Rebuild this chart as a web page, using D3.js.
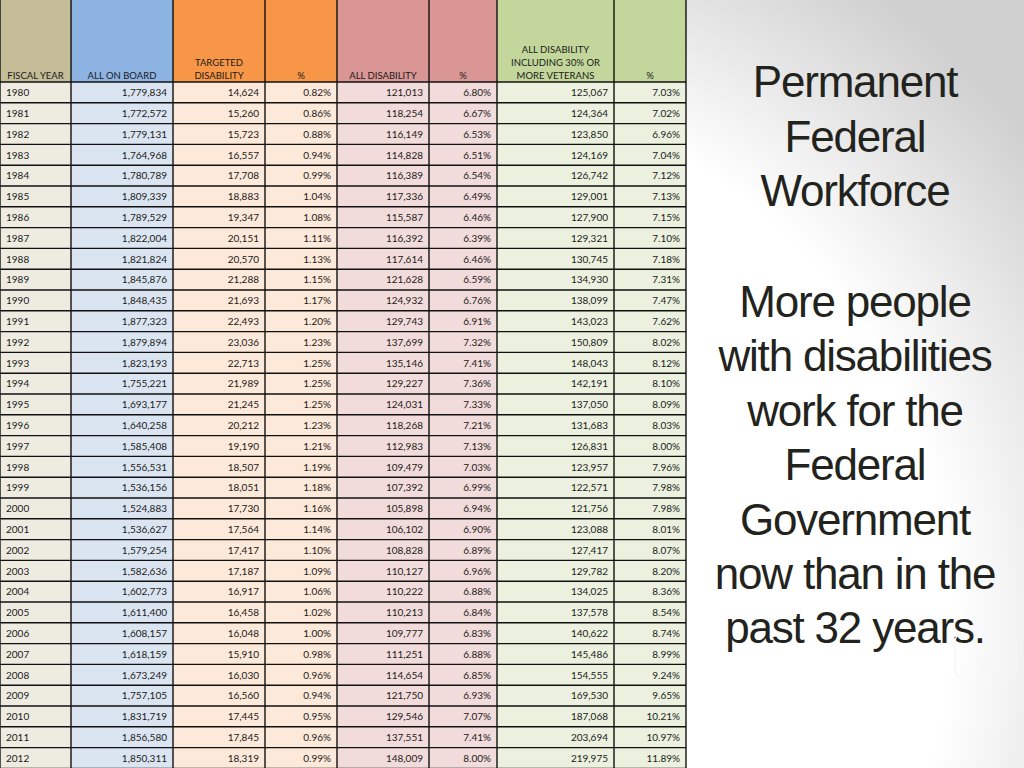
<!DOCTYPE html>
<html><head><meta charset="utf-8">
<script src="https://cdn.jsdelivr.net/npm/d3@7/dist/d3.min.js"></script>
<style>html,body{margin:0;padding:0;background:#fff;overflow:hidden}</style>
</head><body>
<script>
// ---- data ----
const years = [1980,1981,1982,1983,1984,1985,1986,1987,1988,1989,1990,1991,1992,1993,1994,1995,1996,1997,1998,1999,2000,2001,2002,2003,2004,2005,2006,2007,2008,2009,2010,2011,2012];
const allOnBoard = [1779834,1772572,1779131,1764968,1780789,1809339,1789529,1822004,1821824,1845876,1848435,1877323,1879894,1823193,1755221,1693177,1640258,1585408,1556531,1536156,1524883,1536627,1579254,1582636,1602773,1611400,1608157,1618159,1673249,1757105,1831719,1856580,1850311];
const targetedDisability = [14624,15260,15723,16557,17708,18883,19347,20151,20570,21288,21693,22493,23036,22713,21989,21245,20212,19190,18507,18051,17730,17564,17417,17187,16917,16458,16048,15910,16030,16560,17445,17845,18319];
const targetedPct = [0.82,0.86,0.88,0.94,0.99,1.04,1.08,1.11,1.13,1.15,1.17,1.20,1.23,1.25,1.25,1.25,1.23,1.21,1.19,1.18,1.16,1.14,1.10,1.09,1.06,1.02,1.00,0.98,0.96,0.94,0.95,0.96,0.99];
const allDisability = [121013,118254,116149,114828,116389,117336,115587,116392,117614,121628,124932,129743,137699,135146,129227,124031,118268,112983,109479,107392,105898,106102,108828,110127,110222,110213,109777,111251,114654,121750,129546,137551,148009];
const allDisabilityPct = [6.80,6.67,6.53,6.51,6.54,6.49,6.46,6.39,6.46,6.59,6.76,6.91,7.32,7.41,7.36,7.33,7.21,7.13,7.03,6.99,6.94,6.90,6.89,6.96,6.88,6.84,6.83,6.88,6.85,6.93,7.07,7.41,8.00];
const veterans = [125067,124364,123850,124169,126742,129001,127900,129321,130745,134930,138099,143023,150809,148043,142191,137050,131683,126831,123957,122571,121756,123088,127417,129782,134025,137578,140622,145486,154555,169530,187068,203694,219975];
const veteransPct = [7.03,7.02,6.96,7.04,7.12,7.13,7.15,7.10,7.18,7.31,7.47,7.62,8.02,8.12,8.10,8.09,8.03,8.00,7.96,7.98,7.98,8.01,8.07,8.20,8.36,8.54,8.74,8.99,9.24,9.65,10.21,10.97,11.89];
const headers = [["FISCAL YEAR"],["ALL ON BOARD"],["TARGETED","DISABILITY"],["%"],["ALL DISABILITY"],["%"],["ALL DISABILITY","INCLUDING 30% OR","MORE VETERANS"],["%"]];
const titleLines = ["Permanent","Federal","Workforce"];
const messageLines = ["More people","with disabilities","work for the","Federal","Government","now than in the","past 32 years."];
const pageNumber = "4";

// ---- layout ----
const W = 1024, H = 768;
const colEdges = [0,71,173,265,337,429,497,614,686];
const headColors = ["#c4bd97","#8db3e2","#f79646","#f79646","#d99694","#d99694","#c3d69b","#c3d69b"];
const bodyColors = ["#eeece1","#dbe5f1","#fde9d9","#fde9d9","#f2dcdb","#f2dcdb","#ebf1de","#ebf1de"];
const headerH = 82, rowH = 20.8;

const fmtInt = d3.format(",");
const fmtPct = v => v.toFixed(2) + "%";
const columns = [
  {vals: years, f: d => String(d), align: "left"},
  {vals: allOnBoard, f: fmtInt},
  {vals: targetedDisability, f: fmtInt},
  {vals: targetedPct, f: fmtPct},
  {vals: allDisability, f: fmtInt},
  {vals: allDisabilityPct, f: fmtPct},
  {vals: veterans, f: fmtInt},
  {vals: veteransPct, f: fmtPct}
];

const svg = d3.select("body").append("svg").attr("width", W).attr("height", H)
  .style("display","block");

const defs = svg.append("defs");
const rg = defs.append("radialGradient").attr("id","bg")
  .attr("gradientUnits","userSpaceOnUse").attr("cx",420).attr("cy",620).attr("r",780);
rg.append("stop").attr("offset","0%").attr("stop-color","#ffffff");
rg.append("stop").attr("offset","68%").attr("stop-color","#ffffff");
rg.append("stop").attr("offset","100%").attr("stop-color","#cfcfcf");
svg.append("rect").attr("width",W).attr("height",H).attr("fill","url(#bg)");

// scales
const y = d3.scaleBand().domain(years).range([headerH, headerH + rowH*years.length]).padding(0);
const colIdx = d3.range(columns.length);
const x0 = d3.scaleOrdinal().domain(colIdx).range(colEdges.slice(0,-1));
const x1 = d3.scaleOrdinal().domain(colIdx).range(colEdges.slice(1));

const table = svg.append("g").attr("font-family","Lato, 'Open Sans', sans-serif");

// header cells
table.selectAll("rect.h").data(colIdx).join("rect").attr("class","h")
  .attr("x", i => x0(i)).attr("y", -2).attr("width", i => x1(i)-x0(i)).attr("height", headerH+2)
  .attr("fill", i => headColors[i]);

// body cells
colIdx.forEach(ci => {
  table.append("g").selectAll("rect").data(years).join("rect")
    .attr("x", x0(ci)).attr("y", d => y(d)).attr("width", x1(ci)-x0(ci)).attr("height", y.bandwidth())
    .attr("fill", bodyColors[ci]);
});

// header text
colIdx.forEach(ci => {
  const lines = headers[ci];
  const cx = (x0(ci)+x1(ci))/2;
  table.append("g").selectAll("text").data(lines).join("text")
    .attr("x", cx).attr("y", (d,j) => 79 - (lines.length-1-j)*13)
    .attr("text-anchor","middle").attr("font-size", 9.5).attr("fill","#1a1a1a")
    .text(d => d);
});

// body text
colIdx.forEach(ci => {
  const c = columns[ci];
  table.append("g").selectAll("text").data(years).join("text")
    .attr("x", c.align === "left" ? x0(ci)+6 : x1(ci)-6)
    .attr("y", (d) => y(d) + y.bandwidth()/2 + 3.8)
    .attr("text-anchor", c.align === "left" ? "start" : "end")
    .attr("font-size", 10).attr("fill","#1a1a1a")
    .text((d,i) => c.f(c.vals[i]));
});

// grid lines
const grid = table.append("g").attr("stroke","#111").attr("stroke-width",1.4);
grid.selectAll("line.v").data(colEdges).join("line")
  .attr("x1", d => d).attr("x2", d => d).attr("y1", -2).attr("y2", H+2);
const hLines = [headerH].concat(years.map(d => y(d)+y.bandwidth()));
grid.selectAll("line.hz").data(hLines).join("line")
  .attr("x1", 0).attr("x2", colEdges[colEdges.length-1]).attr("y1", d => d).attr("y2", d => d);

// right-hand text
const txt = svg.append("g").attr("font-family","'Liberation Sans', Arial, sans-serif")
  .attr("font-size", 44).attr("fill","#23231d").attr("text-anchor","middle")
  .attr("letter-spacing","-1.2px");
txt.selectAll("text.t").data(titleLines).join("text").attr("class","t")
  .attr("x", 855).attr("y", (d,i) => 97 + i*54.5).text(d => d);
txt.selectAll("text.m").data(messageLines).join("text").attr("class","m")
  .attr("x", 855).attr("y", (d,i) => 317 + i*54.4).text(d => d);

// page number with brackets
const pn = svg.append("g");
pn.append("path").attr("d","M962,634 Q955,635 955,642 L955,670 Q955,677 962,678")
  .attr("fill","none").attr("stroke","#f6f6f6").attr("stroke-width",1.5);
pn.append("path").attr("d","M1009,634 Q1016,635 1016,642 L1016,670 Q1016,677 1009,678")
  .attr("fill","none").attr("stroke","#f6f6f6").attr("stroke-width",1.5);
pn.append("text").attr("x",986).attr("y",668).attr("text-anchor","middle")
  .attr("font-family","'Liberation Sans', Arial, sans-serif").attr("font-size",14)
  .attr("fill","#f4f4f4").text(pageNumber);
</script>
</body></html>
